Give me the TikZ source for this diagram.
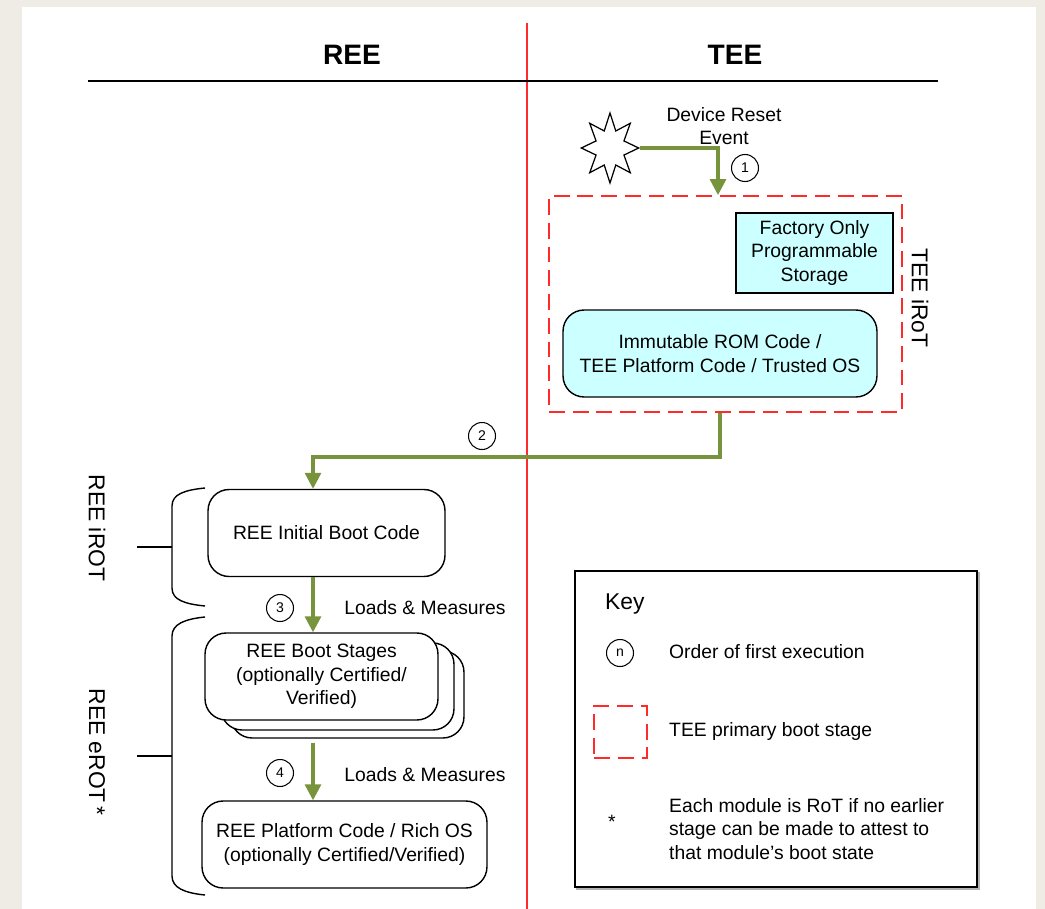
\documentclass[tikz,border=0pt]{standalone}
\usepackage{fontspec}
\setmainfont{Liberation Sans}
\usetikzlibrary{arrows.meta,shapes.geometric,positioning}
\definecolor{paper}{HTML}{EFECE6}
\definecolor{flowgreen}{HTML}{77933C}
\definecolor{romcyan}{HTML}{CCFFFF}
\definecolor{teered}{HTML}{FF2A2A}
\tikzset{
  stage/.style={draw, line width=0.8pt, rounded corners=12pt, fill=white, align=center,
    font=\fontsize{11}{13.5}\selectfont, minimum height=1.74cm},
  store/.style={draw, line width=0.8pt, fill=romcyan, align=center, font=\fontsize{11}{13.5}\selectfont},
  num/.style={draw, circle, line width=0.6pt, minimum size=0.54cm, inner sep=0pt, font=\fontsize{8}{9}\selectfont},
  flow/.style={draw=flowgreen, line width=1.8pt, -{Triangle[length=9pt,width=9pt]}},
  irot/.style={draw=teered, line width=1.1pt, dash pattern=on 9pt off 4.5pt},
  label/.style={font=\fontsize{11}{13.5}\selectfont, align=center},
  side/.style={rotate=-90, font=\fontsize{13}{15}\selectfont},
  head/.style={font=\fontsize{16}{18}\selectfont\bfseries},
}
\begin{document}
\begin{tikzpicture}[x=0.02cm, y=-0.02cm]
	% paper and page
	\fill[paper] (0,0) rectangle (1045,909);
	\fill[white] (22,7) rectangle (1036,909);
	\useasboundingbox (0,0) rectangle (1045,909);
	% REE / TEE split
	\draw[teered, line width=1.1pt] (527,23) -- (527,909);
	\draw[line width=1.1pt] (88,81) -- (938,81);
	\node[head] (ree) at (352,55) {REE};
	\node[head] (tee) at (735,55) {TEE};

	% TEE side
	\node[draw, star, star points=8, star point ratio=1.9, minimum size=1.4cm, xscale=0.82, inner sep=0pt, line width=0.7pt] (reset) at (610,148) {};
	\node[label] (resettxt) at (724,126) {Device Reset\\Event};
	\node[irot, minimum width=7.06cm, minimum height=4.32cm] (teeirot) at (725.5,304) {};
	\node[side] (teeirottxt) at (920,298) {TEE iRoT};
	\node[store, minimum width=3.14cm, minimum height=1.6cm] (factory) at (814.5,253) {Factory Only\\Programmable\\Storage};
	\node[stage, fill=romcyan, minimum width=6.28cm] (rom) at (720,353.5) {Immutable ROM Code /\\TEE Platform Code / Trusted OS};
	\draw[flow] (reset.east) -| ([xshift=-0.15cm]teeirot.north);
	\node[num] (n1) at (745,168) {1};

	% REE side
	\coordinate (spine) at (313,457);
	\node[stage, minimum width=4.74cm] (initboot) at (326.5,533) {REE Initial Boot Code};
	\node[stage, minimum width=4.66cm] (stack3) at (347.5,694.5) {};
	\node[stage, minimum width=4.66cm] (stack2) at (337.5,686.5) {};
	\node[stage, minimum width=4.66cm] (bootstages) at (321.5,676.5) {REE Boot Stages\\(optionally Certified/\\Verified)};
	\node[stage, minimum width=5.7cm] (platform) at (344.5,844.5) {REE Platform Code / Rich OS\\(optionally Certified/Verified)};
	\draw[flow] ([xshift=-0.11cm]teeirot.south) |- (spine) -- (spine |- initboot.north);
	\node[num] (n2) at (482,436) {2};
	\draw[flow] (initboot.south -| spine) -- (bootstages.north -| spine);
	\node[num] (n3) at (280,608) {3};
	\node[label] (loads3) at (425,608) {Loads \& Measures};
	\draw[flow, shorten <=2.5pt] (stack3.south -| spine) -- (platform.north -| spine);
	\node[num] (n4) at (280,773) {4};
	\node[label] (loads4) at (425,775) {Loads \& Measures};

	% brackets
	\draw[line width=0.8pt] (205,488) .. controls (185,490) and (172,494) .. (172,506) -- (172,588) .. controls (172,600) and (185,604) .. (205,606);
	\draw[line width=0.8pt] (137,547) -- (172,547);
	\node[side] (reeirot) at (97,528) {REE iROT};
	\draw[line width=0.8pt] (205,617) .. controls (185,619) and (172,624) .. (172,636) -- (172,876) .. controls (172,888) and (185,893) .. (205,895);
	\draw[line width=0.8pt] (137,756) -- (172,756);
	\node[side] (reeerot) at (97,752) {REE eROT\,*};

	% key
	\draw[gray!60, line width=1.4pt] (577,573) rectangle (979,889);
	\node[draw, line width=0.8pt, fill=white, minimum width=8.04cm, minimum height=6.32cm] (keybox) at (776,729) {};
	\node[font=\fontsize{13}{15}\selectfont, anchor=west] (keytxt) at (599,604) {Key};
	\node[num] (keynum) at (620,653) {n};
	\node[label, anchor=west] (keyorder) at (663,652) {Order of first execution};
	\node[irot, minimum size=1.05cm] (keydash) at (620.5,732) {};
	\node[label, anchor=west] (keystage) at (663,731) {TEE primary boot stage};
	\node[font=\fontsize{11}{12}\selectfont] (keystar) at (612,822) {*};
	\node[label, align=left, anchor=west] (keyrot) at (663,829) {Each module is RoT if no earlier\\stage can be made to attest to\\that module’s boot state};
\end{tikzpicture}
\end{document}
